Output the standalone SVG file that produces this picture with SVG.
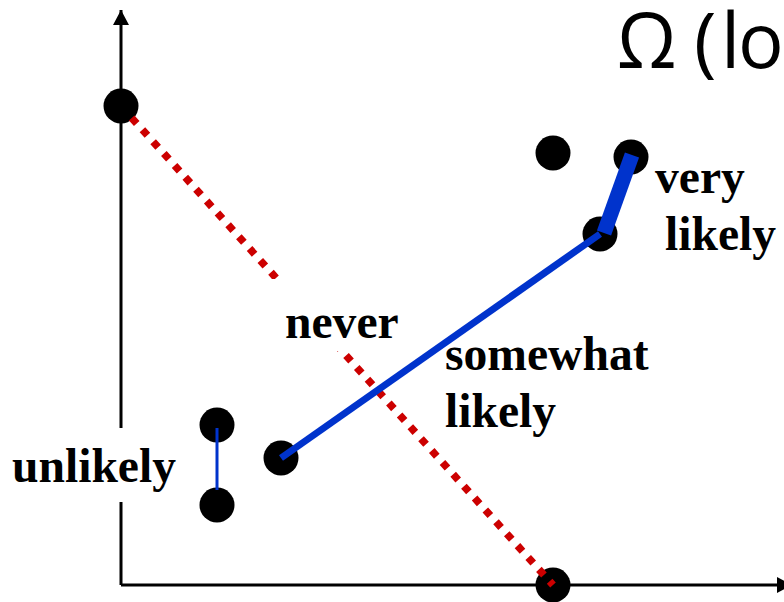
<svg xmlns="http://www.w3.org/2000/svg" width="784" height="602" viewBox="0 0 784 602">
<style>
.lbl{font-family:"Liberation Serif","Times New Roman",serif;font-weight:bold;font-size:47.6px;fill:#000}
.dot{fill:#000}
.axis{stroke:#000;stroke-width:3;fill:none}
.mask{fill:#fff}
</style>
<defs>
<marker id="ah" viewBox="0 0 15 16" refX="15" refY="8" markerWidth="15" markerHeight="16" markerUnits="userSpaceOnUse" orient="auto">
<path d="M0,0 L15,8 L0,16 z" fill="#000"/>
</marker>
</defs>
<rect width="784" height="602" fill="#fff"/>
<g id="axes">
<line class="axis" x1="121" y1="585" x2="121" y2="10" marker-end="url(#ah)"/>
<line class="axis" x1="121" y1="585" x2="792" y2="585" marker-end="url(#ah)"/>
</g>
<g id="nodes">
<g id="n1"><circle class="dot" cx="121" cy="106" r="17.5"/></g>
<g id="n2"><circle class="dot" cx="553" cy="153" r="17.5"/></g>
<g id="n3"><circle class="dot" cx="631" cy="157" r="17.5"/></g>
<g id="n4"><circle class="dot" cx="600" cy="234" r="17.5"/></g>
<g id="n5"><circle class="dot" cx="217" cy="425" r="17.5"/></g>
<g id="n6"><circle class="dot" cx="217" cy="505" r="17.5"/></g>
<g id="n7"><circle class="dot" cx="281" cy="458" r="17.5"/></g>
<g id="n8"><circle class="dot" cx="553" cy="585" r="17.5"/></g>
</g>
<g id="connectors">
<line x1="131.7" y1="117.9" x2="553" y2="585" stroke="#cc0000" stroke-width="7.5" stroke-dasharray="7.5 8.5"/>
<line x1="217" y1="428" x2="217" y2="490" stroke="#0033cc" stroke-width="3"/>
<line x1="281" y1="458" x2="600" y2="234" stroke="#0033cc" stroke-width="7"/>
<line x1="604" y1="233" x2="632" y2="155" stroke="#0033cc" stroke-width="15"/>
</g>
<g id="labels">
<rect class="mask" x="268" y="279" width="140" height="72"/>
<rect class="mask" x="5" y="428" width="178" height="74"/>
<text class="lbl" x="285" y="338">never</text>
<text class="lbl" x="12" y="482">unlikely</text>
<text class="lbl" x="445" y="370">somewhat</text>
<text class="lbl" x="445" y="427">likely</text>
<text class="lbl" x="655" y="193">very</text>
<text class="lbl" x="665" y="250">likely</text>
<text x="617 694 721 738" y="68" font-family="'Open Sans', sans-serif" font-weight="400" font-size="76" fill="#000">Ω(lo</text>
</g>
</svg>
